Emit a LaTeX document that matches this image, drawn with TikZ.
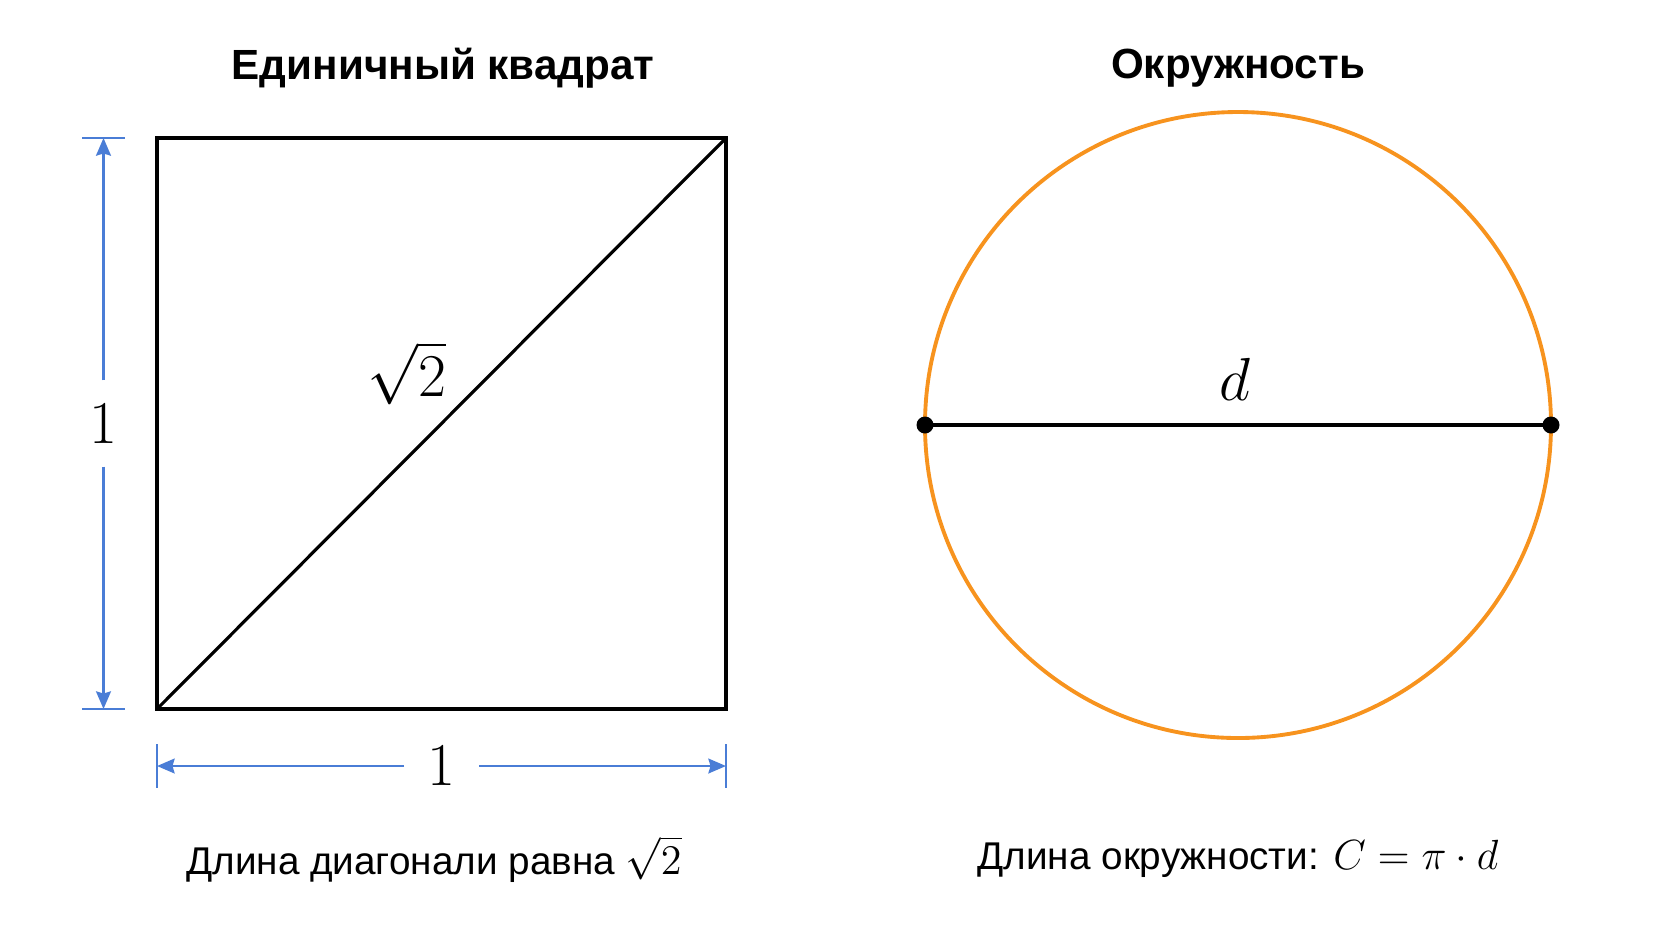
\documentclass[tikz,border=0pt]{standalone}
\usepackage{amsmath}
\usepackage{fontspec}
\setmainfont{Liberation Sans}
\usetikzlibrary{arrows.meta, calc, positioning}
\definecolor{dimblue}{RGB}{74,125,214}
\definecolor{circorange}{RGB}{247,147,30}
\newcommand{\capmath}[1]{{\fontsize{13}{15}\selectfont$#1$}}

\begin{document}
\begin{tikzpicture}[x=0.01cm, y=-0.01cm,
    title/.style={font=\fontsize{12}{15}\selectfont\bfseries},
    caption/.style={font=\fontsize{11}{14}\selectfont},
    mathlabel/.style={font=\fontsize{17.5}{20}\selectfont},
    dimline/.style={dimblue, line width=0.75pt},
    dimarrow/.style={dimline, -{Stealth[length=5pt, width=4.2pt, inset=0.6pt]}},
    edge/.style={black, line width=0.9pt},
    dot/.style={circle, fill=black, inner sep=0pt, minimum size=0.17cm}]
    \useasboundingbox (0,0) rectangle (1672,941);

    % Unit square with diagonal
    \coordinate (sqA) at (157,709);
    \coordinate (sqC) at (726,138);
    \draw[edge] (sqA) rectangle (sqC);
    \draw[edge] (sqA) -- (sqC);
    \node[mathlabel] (diagLbl) at (407,373) {$\sqrt{2}$};
    \node[title] (sqTitle) at (443,68) {Единичный квадрат};
    \node[caption] (sqCaption) at (434,859) {Длина диагонали равна \capmath{\sqrt{2}}};

    % Vertical dimension
    \coordinate (vTop) at (103.5,138);
    \coordinate (vBot) at (103.5,709);
    \node[mathlabel, inner sep=6.5pt] (vOne) at ($(vTop)!0.5!(vBot)$) {$1$};
    \draw[dimarrow] (vOne) -- (vTop);
    \draw[dimarrow] (vOne) -- (vBot);
    \draw[dimline] ($(vTop)+(-21.5,0)$) -- ($(vTop)+(21.5,0)$);
    \draw[dimline] ($(vBot)+(-21.5,0)$) -- ($(vBot)+(21.5,0)$);

    % Horizontal dimension
    \coordinate (hLeft) at (157,766);
    \coordinate (hRight) at (726,766);
    \node[mathlabel, inner sep=6.5pt] (hOne) at ($(hLeft)!0.5!(hRight)$) {$1$};
    \draw[dimarrow] (hOne) -- (hLeft);
    \draw[dimarrow] (hOne) -- (hRight);
    \draw[dimline] ($(hLeft)+(0,-22)$) -- ($(hLeft)+(0,22)$);
    \draw[dimline] ($(hRight)+(0,-22)$) -- ($(hRight)+(0,22)$);

    % Circle with diameter
    \coordinate (cO) at (1238,425);
    \draw[circorange, line width=1.1pt] (cO) circle (313);
    \node[dot] (dL) at (925,425) {};
    \node[dot] (dR) at (1551,425) {};
    \draw[edge] (dL.center) -- (dR.center);
    \node[mathlabel] (dLbl) at (1235,379) {$d$};
    \node[title] (cTitle) at (1238,68) {Окружность};
    \node[caption] (cCaption) at (1238,859) {Длина окружности: \capmath{C = \pi \cdot d}};
\end{tikzpicture}
\end{document}
